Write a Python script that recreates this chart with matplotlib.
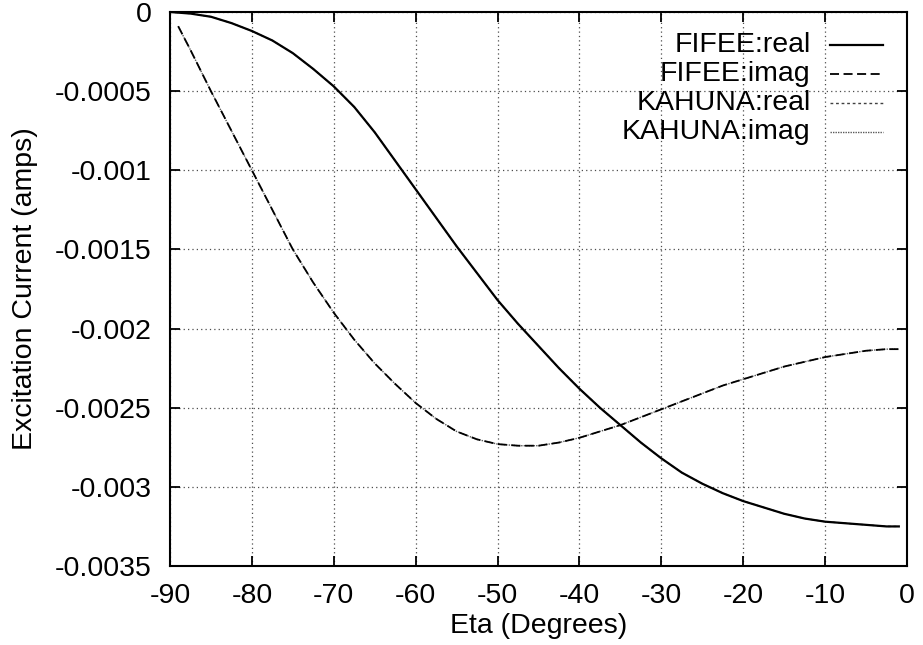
import matplotlib
matplotlib.use('Agg')
import matplotlib.pyplot as plt

plt.rcParams['font.family'] = ['Liberation Sans', 'DejaVu Sans']
plt.rcParams['axes.unicode_minus'] = False   # gnuplot prints a plain hyphen

# --- data ---
eta_real = [-90, -87.5, -85, -82.5, -80, -77.5, -75, -72.5, -70, -67.5, -65,
            -62.5, -60, -57.5, -55, -52.5, -50, -47.5, -45, -42.5, -40,
            -37.5, -35, -32.5, -30, -27.5, -25, -22.5, -20, -17.5, -15,
            -12.5, -10, -7.5, -5, -2.5, -1]
fifee_real = [0.0, -0.00001, -0.00003, -0.00007, -0.00012, -0.00018, -0.00026,
              -0.00036, -0.00047, -0.00060, -0.00076, -0.00094, -0.00112,
              -0.00130, -0.00148, -0.00165, -0.00182, -0.00197, -0.00211,
              -0.00225, -0.00238, -0.00250, -0.00261, -0.00272, -0.00282,
              -0.00291, -0.00298, -0.00304, -0.00309, -0.00313, -0.00317,
              -0.00320, -0.00322, -0.00323, -0.00324, -0.00325, -0.00325]

eta_imag = [-89, -87.5, -85, -82.5, -80, -77.5, -75, -72.5, -70, -67.5, -65,
            -62.5, -60, -57.5, -55, -52.5, -50, -47.5, -45, -42.5, -40,
            -37.5, -35, -32.5, -30, -27.5, -25, -22.5, -20, -17.5, -15,
            -12.5, -10, -7.5, -5, -2.5, -1]
fifee_imag = [-0.00009, -0.00024, -0.00050, -0.00075, -0.00100, -0.00125,
              -0.00150, -0.00171, -0.00190, -0.00207, -0.00222, -0.00235,
              -0.00247, -0.00257, -0.00265, -0.00270, -0.00273, -0.00274,
              -0.00274, -0.00272, -0.00269, -0.00265, -0.00261, -0.00256,
              -0.00251, -0.00246, -0.00241, -0.00236, -0.00232, -0.00228,
              -0.00224, -0.00221, -0.00218, -0.00216, -0.00214, -0.00213,
              -0.00213]

# KAHUNA results lie on top of FIFEE results
kahuna_real = list(fifee_real)
kahuna_imag = list(fifee_imag)

x_ticks = [-90, -80, -70, -60, -50, -40, -30, -20, -10, 0]
y_ticks = [0, -0.0005, -0.001, -0.0015, -0.002, -0.0025, -0.003, -0.0035]
y_labels = ["0", "-0.0005", "-0.001", "-0.0015", "-0.002", "-0.0025", "-0.003", "-0.0035"]

series = [
    ("FIFEE:real", eta_real, fifee_real, dict(linestyle='-', linewidth=1.6, color='black')),
    ("FIFEE:imag", eta_imag, fifee_imag, dict(linestyle=(0, (5, 2.5)), linewidth=1.3, color='black')),
    ("KAHUNA:real", eta_real, kahuna_real, dict(linestyle=(0, (2, 2)), linewidth=1.0, color='0.25')),
    ("KAHUNA:imag", eta_imag, kahuna_imag, dict(linestyle=(0, (1, 0.8)), linewidth=1.0, color='0.35')),
]

fig = plt.figure(figsize=(9.23, 6.45), dpi=100)
ax = fig.add_axes([170 / 923, 1 - 566 / 645, (907 - 170) / 923, (566 - 12) / 645])

# draw KAHUNA first so FIFEE sits on top
for name, xs, ys, style in reversed(series):
    ax.plot(xs, ys, **style)

ax.set_xlim(-90, 0)
ax.set_ylim(-0.0035, 0)
ax.set_xticks(x_ticks)
ax.set_yticks(y_ticks)
ax.set_yticklabels(y_labels)
ax.grid(True, color='0.3', linestyle=(0, (1, 2.5)), linewidth=0.9)
ax.tick_params(direction='in', length=7, width=1.3, top=True, right=True,
               labelsize=20.5)
ax.tick_params(axis='y', pad=13)
ax.tick_params(axis='x', pad=12)
for sp in ax.spines.values():
    sp.set_linewidth(1.5)

ax.set_xlabel("Eta (Degrees)", fontsize=20.5, labelpad=3)
ax.set_ylabel("Excitation Current (amps)", fontsize=20.5, labelpad=12)

# gnuplot style key: right aligned text, sample line to its right
for i, (name, xs, ys, style) in enumerate(series):
    yk = 0.940 - i * 0.0525
    ax.text(0.869, yk, name, transform=ax.transAxes, ha='right', va='center',
            fontsize=20.5)
    ax.plot([0.896, 0.968], [yk, yk], transform=ax.transAxes, **style)

fig.savefig("out.png", dpi=100)
